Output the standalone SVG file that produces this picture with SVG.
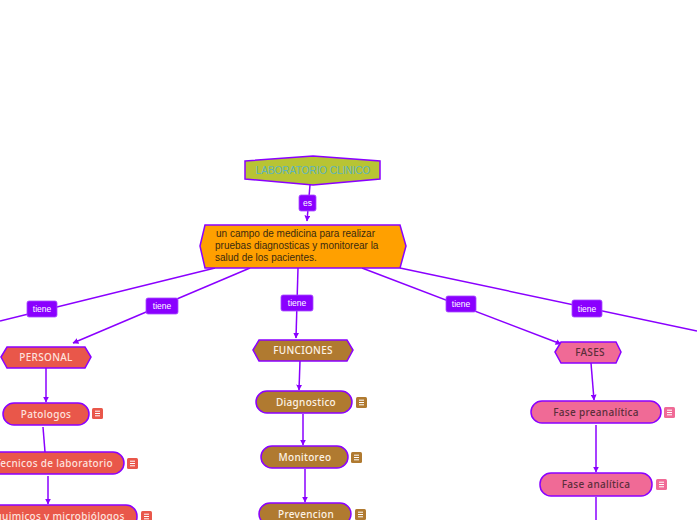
<svg xmlns="http://www.w3.org/2000/svg" width="697" height="520" viewBox="0 0 697 520">
<defs>
<marker id="arr" viewBox="0 0 10 10" refX="9" refY="5" markerWidth="6" markerHeight="6" orient="auto-start-reverse" markerUnits="userSpaceOnUse">
<path d="M0,0 L10,5 L0,10 z" fill="#8a00ff"/>
</marker>
<g id="note">
<rect x="0" y="0" width="11" height="11" rx="1.5"/>
<path d="M3,3.2 H8 M3,5.5 H8 M3,7.8 H8" stroke="#fff" stroke-width="1" fill="none"/>
</g>
</defs>
<style>
.c{stroke:#8a00ff;stroke-width:1.5;fill:none}
.lbl rect{fill:#8a00ff;stroke:#a64dff;stroke-width:0.8}
.lbl text{fill:#fff;font-family:"Liberation Sans",Arial,sans-serif;font-size:8.5px;text-anchor:middle}
.n{stroke:#8a00ff;stroke-width:1.5}
.t{font-family:"Noto Sans","Liberation Sans",sans-serif;font-size:10px;font-weight:500;text-anchor:middle;letter-spacing:0.3px}
.red{fill:#e9574a}
.brown{fill:#b07a30}
.pink{fill:#f06a96}
</style>
<rect width="697" height="520" fill="#ffffff"/>
<g id="connectors">
<path class="c" d="M310,185 L307,221" marker-end="url(#arr)"/>
<path class="c" d="M215,268 L0,321"/>
<path class="c" d="M250,268 L73,343" marker-end="url(#arr)"/>
<path class="c" d="M298,268 L296,338" marker-end="url(#arr)"/>
<path class="c" d="M362,268 L561,344" marker-end="url(#arr)"/>
<path class="c" d="M400,268 L697,331"/>
<path class="c" d="M46,368 L46,402" marker-end="url(#arr)"/>
<path class="c" d="M43,427 L45,452"/>
<path class="c" d="M48,476 L48,504" marker-end="url(#arr)"/>
<path class="c" d="M300,361 L299,390" marker-end="url(#arr)"/>
<path class="c" d="M303,414 L303,445" marker-end="url(#arr)"/>
<path class="c" d="M305,469 L305,502" marker-end="url(#arr)"/>
<path class="c" d="M591,363 L594,400" marker-end="url(#arr)"/>
<path class="c" d="M596,425 L596,472" marker-end="url(#arr)"/>
<path class="c" d="M596,497 L596,520"/>
<g class="lbl"><rect x="299" y="195" width="17" height="16" rx="2"/><text x="307.5" y="206">es</text></g>
<g class="lbl"><rect x="27" y="301" width="30" height="16" rx="2"/><text x="42" y="312">tiene</text></g>
<g class="lbl"><rect x="146" y="298" width="32" height="16" rx="2"/><text x="162" y="309">tiene</text></g>
<g class="lbl"><rect x="281" y="295" width="32" height="16" rx="2"/><text x="297" y="306">tiene</text></g>
<g class="lbl"><rect x="446" y="296" width="30" height="16" rx="2"/><text x="461" y="307">tiene</text></g>
<g class="lbl"><rect x="572" y="300" width="30" height="17" rx="2"/><text x="587" y="311.5">tiene</text></g>
</g>
<g id="laboratorio">
<polygon class="n" points="245,161 313,156 380,161 380,179 313,185 245,179" fill="#b8c434"/>
<text x="313" y="174" font-family="Liberation Sans,Arial,sans-serif" font-size="10" fill="#5db3bf" text-anchor="middle">LABORATORIO CLINICO</text>
</g>
<g id="definicion">
<polygon class="n" points="200,246 205,225 400,225 406,246 400,268 205,268" fill="#ffa000"/>
<text font-family="Liberation Sans,Arial,sans-serif" font-size="10" fill="#3a2a10">
<tspan x="216" y="237"> un campo de medicina para realizar</tspan>
<tspan x="215" y="249">pruebas diagnosticas y monitorear la</tspan>
<tspan x="215" y="261">salud de los pacientes.</tspan>
</text>
</g>
<g id="personal">
<polygon class="n red" points="1,357 7,347 85,347 91,357 85,368 7,368"/>
<text class="t" x="46" y="361" fill="#fde2de">PERSONAL</text>
</g>
<g id="patologos">
<rect class="n red" x="3" y="403" width="86" height="22" rx="11"/>
<text class="t" x="46" y="418" fill="#fde2de">Patologos</text>
<use href="#note" x="92" y="408" fill="#e9574a"/>
</g>
<g id="tecnicos">
<rect class="n red" x="-12" y="452" width="136" height="22" rx="11"/>
<text class="t" x="54" y="467" fill="#fde2de">Tecnicos de laboratorio</text>
<use href="#note" x="127" y="458" fill="#e9574a"/>
</g>
<g id="quimicos">
<rect class="n red" x="-30" y="505" width="167" height="23" rx="11"/>
<text class="t" x="52" y="520" fill="#fde2de">Bioquimicos y microbiólogos</text>
<use href="#note" x="141" y="511" fill="#e9574a"/>
</g>
<g id="funciones">
<polygon class="n brown" points="253,350 259,340 347,340 353,350 347,361 259,361"/>
<text class="t" x="303" y="354" fill="#fdf3e6">FUNCIONES</text>
</g>
<g id="diagnostico">
<rect class="n brown" x="256" y="391" width="96" height="22" rx="11"/>
<text class="t" x="306" y="406" fill="#fdf3e6">Diagnostico</text>
<use href="#note" x="356" y="397" fill="#b07a30"/>
</g>
<g id="monitoreo">
<rect class="n brown" x="261" y="446" width="87" height="22" rx="11"/>
<text class="t" x="305" y="461" fill="#fdf3e6">Monitoreo</text>
<use href="#note" x="351" y="452" fill="#b07a30"/>
</g>
<g id="prevencion">
<rect class="n brown" x="259" y="503" width="92" height="22" rx="11"/>
<text class="t" x="306" y="518" fill="#fdf3e6">Prevencion</text>
<use href="#note" x="355" y="509" fill="#b07a30"/>
</g>
<g id="fases">
<polygon class="n pink" points="555,352 561,342 616,342 621,352 616,363 561,363"/>
<text class="t" x="590" y="356" fill="#5a2e3a">FASES</text>
</g>
<g id="preanalitica">
<rect class="n pink" x="531" y="401" width="130" height="22" rx="11"/>
<text class="t" x="596" y="416" fill="#5a2e3a">Fase preanalítica</text>
<use href="#note" x="664" y="407" fill="#f06a96"/>
</g>
<g id="analitica">
<rect class="n pink" x="540" y="473" width="112" height="23" rx="11"/>
<text class="t" x="596" y="488" fill="#5a2e3a">Fase analítica</text>
<use href="#note" x="656" y="479" fill="#f06a96"/>
</g>
</svg>
